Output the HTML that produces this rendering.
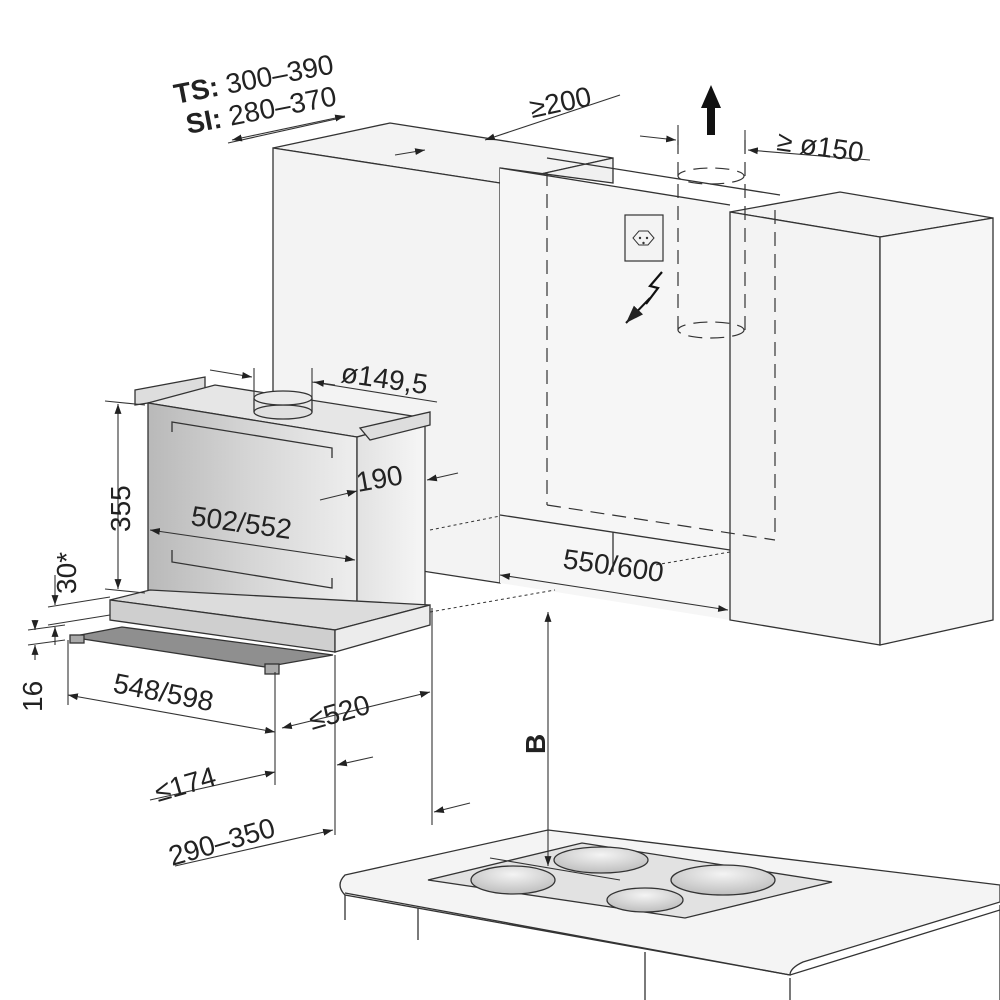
<!DOCTYPE html>
<html><head><meta charset="utf-8"><style>
html,body{margin:0;padding:0;background:#fff;}
svg{display:block;}
text{font-family:"Liberation Sans",Arial,sans-serif;fill:#222;}
</style></head><body>
<svg width="1000" height="1000" viewBox="0 0 1000 1000" xmlns="http://www.w3.org/2000/svg">
<defs>
<marker id="a" viewBox="0 0 10 10" refX="10" refY="5" markerWidth="9" markerHeight="9" orient="auto-start-reverse"><path d="M0,1.5 L10,5 L0,8.5z" fill="#222"/></marker>
<linearGradient id="hg" x1="0" x2="1" y1="0" y2="0"><stop offset="0" stop-color="#b9b9b9"/><stop offset="0.5" stop-color="#d6d6d6"/><stop offset="1" stop-color="#eeeeee"/></linearGradient>
<linearGradient id="sg" x1="0" x2="1"><stop offset="0" stop-color="#e2e2e2"/><stop offset="1" stop-color="#f6f6f6"/></linearGradient>
<radialGradient id="bg" cx="0.5" cy="0.3" r="0.7"><stop offset="0" stop-color="#f4f4f4"/><stop offset="1" stop-color="#bdbdbd"/></radialGradient>
</defs>
<g stroke="#333" stroke-width="1.3" fill="#f3f3f3">
<polygon points="273,148 390,123 613,158 500,183"/>
<polygon points="273,148 500,183 500,583 273,548"/>
<polygon points="500,183 613,158 613,183 500,168" fill="#f0f0f0"/>
<polygon points="500,168 730,205 730,620 500,583" fill="#f6f6f6" stroke="none"/>
<line x1="500" y1="168" x2="730" y2="205"/>
<line x1="547" y1="158" x2="780" y2="195"/>
<line x1="500" y1="515" x2="730" y2="550"/>
<line x1="613" y1="532" x2="613" y2="572"/>
<polygon points="730,212 840,192 993,218 880,237"/>
<polygon points="730,212 880,237 880,645 730,620"/>
<polygon points="880,237 993,218 993,620 880,645" fill="#f6f6f6"/>
</g>
<g stroke="#333" stroke-width="1.2" fill="none" stroke-dasharray="14,8">
<line x1="547" y1="172" x2="547" y2="505"/>
<line x1="775" y1="210" x2="775" y2="540"/>
<line x1="547" y1="505" x2="775" y2="540"/>
<line x1="678" y1="140" x2="678" y2="330"/>
<line x1="745" y1="140" x2="745" y2="330"/>
<ellipse cx="711" cy="176" rx="33" ry="8"/>
<ellipse cx="711" cy="330" rx="33" ry="8"/>
</g>
<g stroke="#333" stroke-width="1" stroke-dasharray="3,3" fill="none">
<line x1="430" y1="530" x2="500" y2="516"/>
<line x1="730" y1="552" x2="655" y2="565"/>
<line x1="430" y1="612" x2="555" y2="590"/>
</g>
<polygon points="711,85 701,108 707,108 707,135 715,135 715,108 721,108" fill="#111"/>
<rect x="625" y="215" width="38" height="46" fill="#f3f3f3" stroke="#333" stroke-width="1.2"/>
<path d="M633,238 l6,-7 h9 l6,7 l-6,7 h-9z" fill="none" stroke="#333"/>
<circle cx="640" cy="238" r="1.2" fill="#333"/><circle cx="647" cy="238" r="1.2" fill="#333"/><circle cx="643.5" cy="243" r="1.2" fill="#333"/>
<path d="M662,272 l-12,14 l8,2 l-12,16" fill="none" stroke="#111" stroke-width="2.2"/>
<line x1="650" y1="298" x2="626" y2="323" stroke="#111" stroke-width="2" marker-end="url(#a)"/>
<g stroke="#333" stroke-width="1.3">
<polygon points="135,390 205,377 205,392 148,403 135,405" fill="#ddd"/>
<polygon points="148,403 215,385 425,418 357,437" fill="#e6e6e6"/>
<polygon points="148,403 357,437 357,615 148,598" fill="url(#hg)"/>
<polygon points="357,437 425,418 425,605 357,615" fill="url(#sg)"/>
<polygon points="360,428 430,412 430,425 370,440" fill="#ddd"/>
<path d="M172,432 v-10 l160,26 v10 M172,550 v12 l160,26 v-10" fill="none"/>
<ellipse cx="283" cy="412" rx="29" ry="7" fill="#e0e0e0"/>
<path d="M254,398 v14 M312,398 v14" fill="none"/>
<ellipse cx="283" cy="398" rx="29" ry="7" fill="#eaeaea"/>
<polygon points="110,600 150,590 430,605 335,630" fill="#dcdcdc"/>
<polygon points="110,600 335,630 335,652 110,620" fill="#cfcfcf"/>
<polygon points="335,630 430,605 430,625 335,652" fill="#ececec"/>
<polygon points="70,637 122,627 333,655 265,667" fill="#8f8f8f"/>
<rect x="70" y="635" width="14" height="8" fill="#aaa"/>
<rect x="265" y="664" width="14" height="10" fill="#aaa"/>
</g>
<g stroke="#333" stroke-width="1.3">
<path d="M345,875 L548,830 L1000,885 L1000,902 L803,962 Q790,968 790,975 L345,895 Q335,885 345,875z" fill="#f4f4f4"/>
<path d="M345,893 L790,975 L1000,910" fill="none"/>
<path d="M345,895 V920 M418,908 V940 M645,952 V1000 M790,978 V1000 M1000,905 V1000" fill="none"/>
<polygon points="428,880 582,843 832,882 685,918" fill="#e2e2e2"/>
<ellipse cx="513" cy="880" rx="42" ry="14" fill="url(#bg)"/>
<ellipse cx="601" cy="860" rx="47" ry="13" fill="url(#bg)"/>
<ellipse cx="723" cy="880" rx="52" ry="15" fill="url(#bg)"/>
<ellipse cx="645" cy="900" rx="38" ry="12" fill="url(#bg)"/>
</g>
<g stroke="#333" stroke-width="1.1" fill="none">
<line x1="228" y1="143" x2="345" y2="117"/>
<line x1="232" y1="140" x2="345" y2="116" marker-start="url(#a)" marker-end="url(#a)"/>
<line x1="395" y1="155" x2="425" y2="150" marker-end="url(#a)"/>
<line x1="620" y1="95" x2="485" y2="140" marker-end="url(#a)"/>
<line x1="640" y1="136" x2="676" y2="140" marker-end="url(#a)"/>
<line x1="870" y1="160" x2="748" y2="150" marker-end="url(#a)"/>
<line x1="678" y1="125" x2="678" y2="145"/><line x1="745" y1="130" x2="745" y2="150"/>
<line x1="210" y1="370" x2="252" y2="377" marker-end="url(#a)"/>
<line x1="312" y1="382" x2="437" y2="402"/>
<line x1="335" y1="385" x2="314" y2="382" marker-end="url(#a)"/>
<line x1="254" y1="368" x2="254" y2="398"/><line x1="312" y1="368" x2="312" y2="398"/>
<line x1="320" y1="500" x2="357" y2="491" marker-end="url(#a)"/>
<line x1="458" y1="473" x2="427" y2="480" marker-end="url(#a)"/>
<line x1="150" y1="530" x2="355" y2="560" marker-start="url(#a)" marker-end="url(#a)"/>
<line x1="105" y1="401" x2="145" y2="405"/><line x1="105" y1="589" x2="145" y2="593"/>
<line x1="118" y1="404" x2="118" y2="589" marker-start="url(#a)" marker-end="url(#a)"/>
<line x1="55" y1="575" x2="55" y2="605" marker-end="url(#a)"/>
<line x1="48" y1="607" x2="110" y2="597"/><line x1="48" y1="625" x2="110" y2="615"/>
<line x1="55" y1="645" x2="55" y2="627" marker-end="url(#a)"/>
<line x1="28" y1="630" x2="65" y2="625"/><line x1="28" y1="645" x2="65" y2="640"/>
<line x1="35" y1="620" x2="35" y2="630" marker-end="url(#a)"/>
<line x1="35" y1="660" x2="35" y2="645" marker-end="url(#a)"/>
<line x1="68" y1="640" x2="68" y2="705"/>
<line x1="275" y1="672" x2="275" y2="785"/>
<line x1="335" y1="655" x2="335" y2="835"/>
<line x1="432" y1="608" x2="432" y2="825"/>
<line x1="68" y1="695" x2="275" y2="732" marker-start="url(#a)" marker-end="url(#a)"/>
<line x1="282" y1="728" x2="430" y2="692" marker-start="url(#a)" marker-end="url(#a)"/>
<line x1="150" y1="800" x2="275" y2="772" marker-end="url(#a)"/>
<line x1="373" y1="757" x2="337" y2="765" marker-end="url(#a)"/>
<line x1="175" y1="866" x2="333" y2="830" marker-end="url(#a)"/>
<line x1="470" y1="803" x2="434" y2="812" marker-end="url(#a)"/>
<line x1="548" y1="612" x2="548" y2="866" marker-start="url(#a)" marker-end="url(#a)"/>
<line x1="490" y1="858" x2="620" y2="880"/>
<line x1="500" y1="575" x2="728" y2="610" marker-start="url(#a)" marker-end="url(#a)"/>
</g>
<g font-size="28">
<text transform="translate(176,104) rotate(-11)"><tspan font-weight="bold">TS:</tspan> 300–390</text>
<text transform="translate(188,134) rotate(-11)"><tspan font-weight="bold">SI:</tspan> 280–370</text>
<text transform="translate(532,118) rotate(-12)">≥200</text>
<text transform="translate(776,150) rotate(8)">≥ ø150</text>
<text transform="translate(340,382) rotate(8)">ø149,5</text>
<text transform="translate(358,492) rotate(-10)">190</text>
<text transform="translate(190,525) rotate(8)">502/552</text>
<text transform="translate(130,532) rotate(-90)">355</text>
<text transform="translate(76,594) rotate(-90)">30*</text>
<text transform="translate(42,712) rotate(-90)">16</text>
<text transform="translate(112,692) rotate(11)">548/598</text>
<text transform="translate(312,730) rotate(-16)">≤520</text>
<text transform="translate(158,802) rotate(-16)">≤174</text>
<text transform="translate(172,866) rotate(-16)">290–350</text>
<text transform="translate(562,568) rotate(8)">550/600</text>
<text transform="translate(545,754) rotate(-90)" font-weight="bold">B</text>
</g>
</svg>
</body></html>
